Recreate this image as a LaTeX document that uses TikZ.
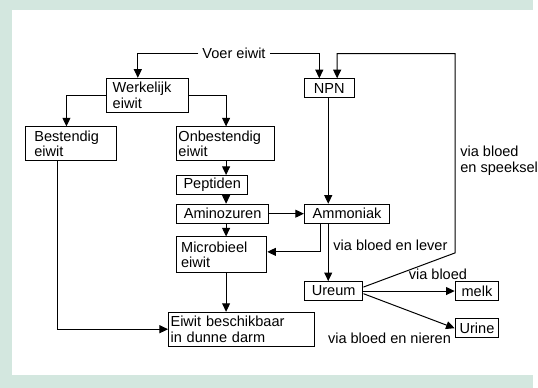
\documentclass[tikz,border=0pt]{standalone}
\usepackage{fontspec}
\setmainfont{Liberation Sans}
\usetikzlibrary{arrows.meta}
\definecolor{bggreen}{RGB}{211,231,223}
\begin{document}
\begin{tikzpicture}[x=0.75pt,y=-0.75pt,
  every node/.style={font=\fontsize{11}{11.8}\selectfont},
  box/.style={draw, line width=0.75pt, inner ysep=0pt, minimum height=14.25pt, align=left},
  sbox/.style={draw, line width=0.75pt, inner sep=0pt, minimum height=14.25pt, align=center},
  lbl/.style={inner sep=0pt, align=left},
  conn/.style={line width=0.75pt},
  arr/.style={conn, -{Triangle[length=6.5pt,width=6pt]}}]
\fill[bggreen] (0,0) rectangle (538,391);
\fill[white] (12,10) rectangle (538,378);

% nodes
\node[lbl, inner xsep=3pt] (voer) at (236,54) {Voer eiwit};
\node[box, text width=52.25pt, inner xsep=5pt, minimum height=25.5pt] (werk) at (148.5,96) {Werkelijk\\eiwit};
\node[sbox, minimum width=37.5pt] (npn) at (332,89) {NPN};
\node[box, text width=55.25pt, inner xsep=6.5pt, minimum height=25.5pt] (best) at (71.5,145) {Bestendig\\eiwit};
\node[box, text width=71.25pt, inner xsep=1.5pt, minimum height=25.5pt] (onbest) at (227.5,145) {Onbestendig\\eiwit};
\node[sbox, minimum width=54pt] (pept) at (214,186.5) {Peptiden};
\node[sbox, minimum width=69.75pt] (amino) at (224.5,215.5) {Aminozuren};
\node[box, text width=61.25pt, inner xsep=3.5pt, minimum height=27pt] (micro) at (223.5,257) {Microbieel\\eiwit};
\node[box, text width=107.25pt, inner xsep=1.5pt, minimum height=25.5pt] (eiwit) at (243.5,332) {Eiwit beschikbaar\\in dunne darm};
\node[sbox, minimum width=64.5pt] (ammon) at (350,215.5) {Ammoniak};
\node[sbox, minimum width=44.25pt] (ureum) at (336.5,293.5) {Ureum};
\node[sbox, minimum width=33pt] (melk) at (481,293.5) {melk};
\node[sbox, minimum width=33pt] (urine) at (481,331) {Urine};

% labels
\node[lbl, anchor=west] (l1) at (464,162) {via bloed\\en speeksel};
\node[lbl, anchor=west] (l2) at (336,247) {via bloed en lever};
\node[lbl, anchor=west] (l3) at (412,277) {via bloed};
\node[lbl, anchor=east] (l4) at (455,341) {via bloed en nieren};

% bend coordinates
\coordinate (c1) at (139,54);
\coordinate (c2) at (322,54);
\coordinate (c3) at (340,54);
\coordinate (c4) at (459,54);
\coordinate (c5) at (459,255);
\coordinate (c6) at (67,97);
\coordinate (c7) at (228,97);
\coordinate (ax) at (228,0);
\coordinate (bx) at (58,0);
\coordinate (nx) at (331,0);
\coordinate (mx) at (323,254);

% connectors
\draw[arr] (voer.west) -- (c1) -- (c1 |- werk.north);
\draw[arr] (voer.east) -- (c2) -- (c2 |- npn.north);
\draw[arr] ([yshift=3pt]ureum.east) -- (c5) -- (c4) -- (c3) -- (c3 |- npn.north);
\draw[arr] (werk.west) -- (werk.west -| c6) -- (c6 |- best.north);
\draw[arr] (werk.east) -- (werk.east -| c7) -- (c7 |- onbest.north);
\draw[arr] (onbest.south -| ax) -- (pept.north -| ax);
\draw[arr] (pept.south -| ax) -- (amino.north -| ax);
\draw[arr] (amino.south -| ax) -- (micro.north -| ax);
\draw[arr] (micro.south -| ax) -- (eiwit.north -| ax);
\draw[arr] (best.south -| bx) -- (bx |- eiwit.west) -- (eiwit.west);
\draw[arr] (amino.east) -- (ammon.west);
\draw[arr] (npn.south -| nx) -- (ammon.north -| nx);
\draw[arr] (ammon.south -| mx) -- (mx) -- (mx -| micro.east);
\draw[arr] (ammon.south -| nx) -- (ureum.north -| nx);
\draw[arr] (ureum.east) -- (melk.west);
\draw[arr] ([yshift=-2pt]ureum.east) -- (urine.west);
\end{tikzpicture}
\end{document}
